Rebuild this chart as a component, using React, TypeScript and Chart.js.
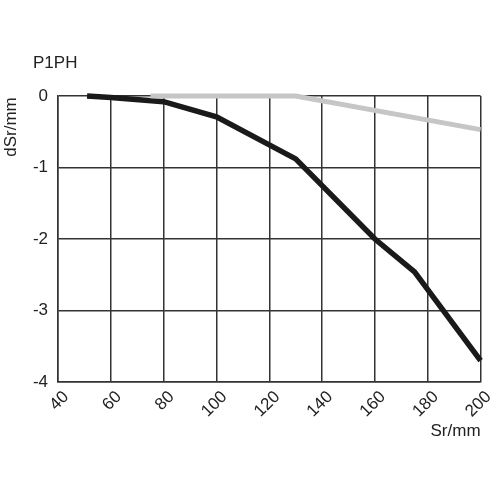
import { useEffect, useRef } from "react";
import { Chart, registerables } from "chart.js";

Chart.register(...registerables);

// black curve
const blackX = [51, 60, 80, 100, 130, 160, 175, 200];
const blackY = [0, -0.02, -0.08, -0.29, -0.88, -2.0, -2.46, -3.7];

// grey curve
const greyX = [75, 130, 200];
const greyY = [0, 0, -0.47];

const xMin = 40;
const xMax = 200;
const yMin = -4;
const yMax = 0;

const FONT = "'Liberation Sans', Arial, Helvetica, sans-serif";

const labelsPlugin = {
  id: "labels",
  afterDraw(chart: Chart) {
    const { ctx, chartArea } = chart;
    ctx.save();
    ctx.fillStyle = "#222";
    ctx.font = `17px ${FONT}`;
    ctx.textBaseline = "middle";

    ctx.textAlign = "left";
    ctx.fillText("P1PH", 33, 63);

    ctx.textAlign = "right";
    ctx.fillText("Sr/mm", chartArea.right, 431);

    ctx.translate(11, 127);
    ctx.rotate(-Math.PI / 2);
    ctx.textAlign = "center";
    ctx.fillText("dSr/mm", 0, 0);
    ctx.restore();
  },
};

export default function App() {
  const canvasRef = useRef<HTMLCanvasElement>(null);

  useEffect(() => {
    if (!canvasRef.current) return;
    const chart = new Chart(canvasRef.current, {
      type: "scatter",
      data: {
        datasets: [
          {
            label: "grey",
            data: greyX.map((x, i) => ({ x, y: greyY[i] })),
            showLine: true,
            borderColor: "#c6c6c6",
            borderWidth: 5,
            pointRadius: 0,
            clip: false,
          },
          {
            label: "black",
            data: blackX.map((x, i) => ({ x, y: blackY[i] })),
            showLine: true,
            borderColor: "#1a1a1a",
            borderWidth: 5.5,
            pointRadius: 0,
            clip: false,
          },
        ],
      },
      options: {
        animation: false,
        responsive: false,
        devicePixelRatio: 1,
        layout: { padding: { top: 96, right: 15, left: 0, bottom: 0 } },
        plugins: {
          legend: { display: false },
          tooltip: { enabled: false },
        },
        scales: {
          x: {
            type: "linear",
            min: xMin,
            max: xMax,
            afterFit: (scale) => {
              scale.height = 118;
            },
            grid: { color: "#333", lineWidth: 1.5, drawTicks: false },
            border: { color: "#333", width: 1.5 },
            ticks: {
              stepSize: 20,
              minRotation: 45,
              maxRotation: 45,
              padding: 5,
              labelOffset: 8,
              color: "#222",
              font: { size: 17, family: FONT },
            },
          },
          y: {
            type: "linear",
            min: yMin,
            max: yMax,
            afterFit: (scale) => {
              scale.width = 58;
            },
            grid: { color: "#333", lineWidth: 1.5, drawTicks: false },
            border: { color: "#333", width: 1.5 },
            ticks: {
              stepSize: 1,
              padding: 10,
              color: "#222",
              font: { size: 17, family: FONT },
            },
          },
        },
      },
      plugins: [labelsPlugin],
    });
    return () => chart.destroy();
  }, []);

  return (
    <div style={{ position: "absolute", left: 0, top: 0, width: 500, height: 500, background: "#fff" }}>
      <canvas ref={canvasRef} width={500} height={500} />
    </div>
  );
}
